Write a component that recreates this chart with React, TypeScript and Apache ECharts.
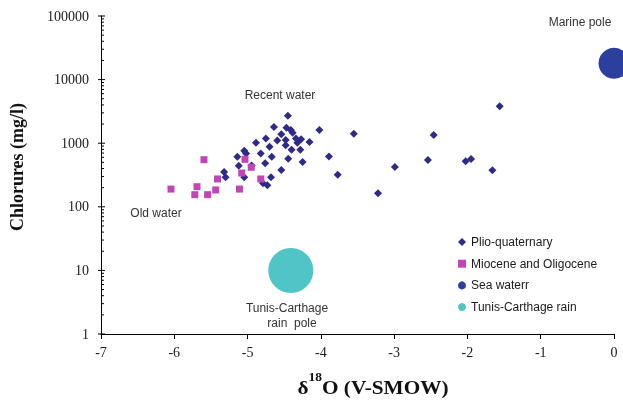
import React, { useEffect, useRef } from "react";
import * as echarts from "echarts";

// δ18O (x) and chlorides mg/l (y)
const plioQuaternary: number[][] = [
  [-4.45, 2700], [-4.64, 1800], [-4.47, 1750], [-4.41, 1610], [-4.385, 1460],
  [-4.54, 1380], [-4.02, 1610], [-3.55, 1410], [-4.75, 1190], [-4.885, 1020],
  [-4.595, 1100], [-4.48, 1120], [-4.34, 1190], [-4.27, 1150], [-4.32, 1020],
  [-4.155, 1045], [-4.48, 930], [-4.7, 880], [-4.4, 790], [-4.28, 790],
  [-5.045, 760], [-5.02, 690], [-4.82, 690], [-5.14, 615], [-4.67, 615],
  [-4.445, 570], [-3.89, 620], [-4.25, 505], [-4.76, 483], [-5.12, 443],
  [-4.945, 446], [-4.54, 380], [-5.32, 352], [-5.3, 291], [-5.045, 291],
  [-4.68, 291], [-3.77, 320], [-4.79, 234], [-4.73, 218], [-3.22, 163],
  [-2.99, 423], [-2.54, 544], [-2.46, 1345], [-2.025, 519], [-1.95, 564],
  [-1.66, 375], [-1.56, 3800],
];
const mioceneOligocene: number[][] = [
  [-5.595, 550], [-5.035, 558], [-4.95, 418], [-5.08, 340], [-5.41, 274],
  [-4.82, 274], [-6.045, 190], [-5.69, 207], [-5.435, 184], [-5.11, 190],
  [-5.72, 155], [-5.545, 155],
];
const seaWater: number[][] = [[0, 18000]];
const tunisRain: number[][] = [[-4.41, 10]];

const seriesNames = ["Plio-quaternary", "Miocene and Oligocene", "Sea waterr", "Tunis-Carthage rain"];
const decades = [1, 10, 100, 1000, 10000, 100000];
const minorSteps = [2, 3, 4, 5, 6, 7, 8, 9];

const serif = "'Liberation Serif', 'Times New Roman', serif";
const sans = "'Liberation Sans', Arial, sans-serif";

export default function App() {
  const ref = useRef<HTMLDivElement>(null);
  useEffect(() => {
    if (!ref.current) return;
    const chart = echarts.init(ref.current, undefined, { renderer: "svg" });
    const minorTicks: number[][] = [];
    decades.slice(0, -1).forEach((d) => minorSteps.forEach((s) => minorTicks.push([-7, d * s, 0])));
    const majorTicks: number[][] = decades.map((d) => [-7, d, 1]);

    chart.setOption({
      animation: false,
      grid: { left: 101, right: 9, top: 16, bottom: 68 },
      legend: {
        orient: "vertical",
        left: 453,
        top: 230,
        itemWidth: 8,
        itemHeight: 8,
        itemGap: 7.7,
        data: [
          { name: seriesNames[0], icon: "diamond" },
          { name: seriesNames[1], icon: "rect" },
          { name: seriesNames[2], icon: "circle" },
          { name: seriesNames[3], icon: "circle" },
        ],
        textStyle: { fontFamily: sans, fontSize: 12, color: "#1a1a1a", lineHeight: 14 },
      },
      xAxis: {
        type: "value",
        min: -7,
        max: 0,
        interval: 1,
        splitLine: { show: false },
        axisLine: { onZero: false, lineStyle: { color: "#000", width: 1 } },
        axisTick: { show: true, length: 5, lineStyle: { color: "#000" } },
        axisLabel: { fontFamily: serif, fontSize: 14, color: "#1a1a1a", margin: 11 },
      },
      yAxis: {
        type: "log",
        logBase: 10,
        min: 1,
        max: 100000,
        splitLine: { show: false },
        axisLine: { show: true, onZero: false, lineStyle: { color: "#000", width: 1 } },
        axisTick: { show: false },
        minorTick: { show: false },
        axisLabel: {
          fontFamily: serif,
          fontSize: 14,
          color: "#1a1a1a",
          margin: 12,
          formatter: (v: number) => String(Math.round(v)),
        },
      },
      series: [
        {
          name: "ticks",
          type: "custom",
          silent: true,
          clip: false,
          data: [...majorTicks, ...minorTicks],
          renderItem: (params: any, api: any) => {
            const c = api.coord([api.value(0), api.value(1)]);
            const major = api.value(2) === 1;
            return {
              type: "line",
              shape: { x1: c[0] - (major ? 3 : 0), y1: c[1], x2: c[0] + (major ? 4 : 3), y2: c[1] },
              style: { stroke: "#000", lineWidth: 1 },
            };
          },
        },
        {
          name: seriesNames[0],
          type: "scatter",
          symbol: "diamond",
          symbolSize: 8,
          clip: false,
          itemStyle: { color: "#2f2a87", opacity: 1 },
          data: plioQuaternary,
        },
        {
          name: seriesNames[1],
          type: "scatter",
          symbol: "rect",
          symbolSize: 7,
          clip: false,
          itemStyle: { color: "#c245b5", opacity: 1 },
          data: mioceneOligocene,
        },
        {
          name: seriesNames[2],
          type: "scatter",
          symbol: "circle",
          symbolSize: 31,
          clip: false,
          itemStyle: { color: "#2c3f9e", opacity: 1 },
          data: seaWater,
        },
        {
          name: seriesNames[3],
          type: "scatter",
          symbol: "circle",
          symbolSize: 45,
          clip: false,
          itemStyle: { color: "#4fc5c7", opacity: 1 },
          data: tunisRain,
        },
      ],
      graphic: [
        {
          type: "text",
          x: 17,
          y: 167,
          rotation: Math.PI / 2,
          style: {
            text: "Chlorures (mg/l)",
            font: `bold 18px ${serif}`,
            fill: "#111",
            align: "center",
            verticalAlign: "middle",
          },
        },
        {
          type: "text",
          x: 373,
          y: 384,
          scaleX: 1.12,
          style: {
            text: "{a|δ}{b|18}{a|O (V-SMOW)}",
            align: "center",
            verticalAlign: "middle",
            rich: {
              a: { fontFamily: serif, fontWeight: "bold", fontSize: 19, fill: "#111", lineHeight: 26, verticalAlign: "bottom" },
              b: { fontFamily: serif, fontWeight: "bold", fontSize: 12, fill: "#111", verticalAlign: "top", lineHeight: 12 },
            },
          },
        },
        { type: "text", x: 580, y: 22, style: { text: "Marine pole", font: `12px ${sans}`, fill: "#333", align: "center", verticalAlign: "middle" } },
        { type: "text", x: 280, y: 95, style: { text: "Recent water", font: `12px ${sans}`, fill: "#333", align: "center", verticalAlign: "middle" } },
        { type: "text", x: 156, y: 213, style: { text: "Old water", font: `12px ${sans}`, fill: "#333", align: "center", verticalAlign: "middle" } },
        { type: "text", x: 287, y: 308, style: { text: "Tunis-Carthage", font: `12px ${sans}`, fill: "#333", align: "center", verticalAlign: "middle" } },
        { type: "text", x: 292, y: 323, style: { text: "rain  pole", font: `12px ${sans}`, fill: "#333", align: "center", verticalAlign: "middle" } },
      ],
    });
    return () => chart.dispose();
  }, []);
  return <div ref={ref} style={{ position: "fixed", left: 0, top: 0, width: 623, height: 402 }} />;
}
